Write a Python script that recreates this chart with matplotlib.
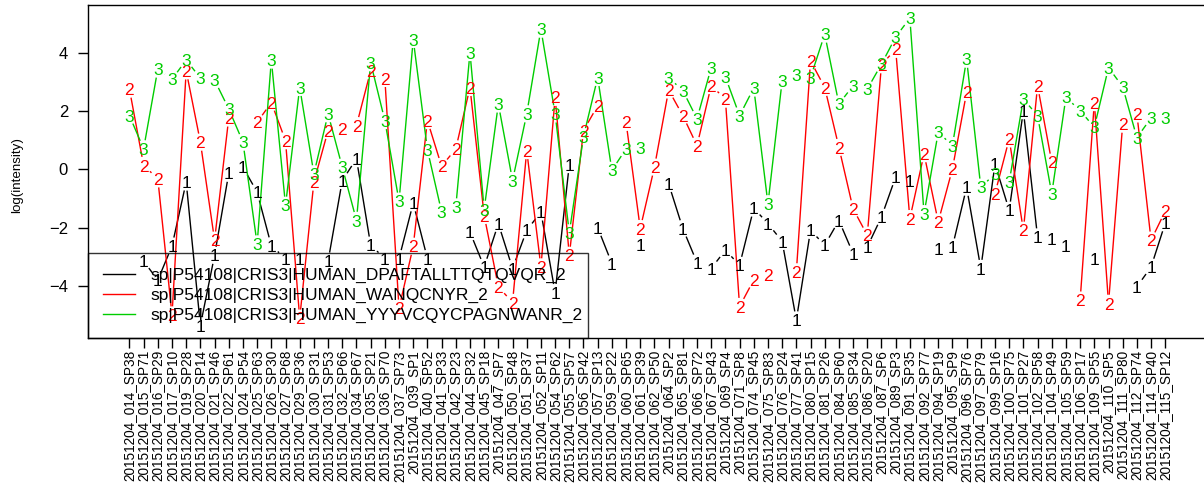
import numpy as np
import matplotlib.pyplot as plt
from matplotlib import transforms
from matplotlib.collections import LineCollection
from matplotlib.lines import Line2D

plt.rcParams['font.family'] = ['Liberation Sans', 'DejaVu Sans']

nan = np.nan

samples = [
    '20151204_014_SP38', '20151204_015_SP71', '20151204_016_SP29', '20151204_017_SP10',
    '20151204_019_SP28', '20151204_020_SP14', '20151204_021_SP46', '20151204_022_SP61',
    '20151204_024_SP54', '20151204_025_SP63', '20151204_026_SP30', '20151204_027_SP68',
    '20151204_029_SP36', '20151204_030_SP31', '20151204_031_SP53', '20151204_032_SP66',
    '20151204_034_SP67', '20151204_035_SP21', '20151204_036_SP70', '20151204_037_SP73',
    '20151204_039_SP1', '20151204_040_SP52', '20151204_041_SP33', '20151204_042_SP23',
    '20151204_044_SP32', '20151204_045_SP18', '20151204_047_SP7', '20151204_050_SP48',
    '20151204_051_SP37', '20151204_052_SP11', '20151204_054_SP62', '20151204_055_SP57',
    '20151204_056_SP42', '20151204_057_SP13', '20151204_059_SP22', '20151204_060_SP65',
    '20151204_061_SP39', '20151204_062_SP50', '20151204_064_SP2', '20151204_065_SP81',
    '20151204_066_SP72', '20151204_067_SP43', '20151204_069_SP4', '20151204_071_SP8',
    '20151204_074_SP45', '20151204_075_SP83', '20151204_076_SP24', '20151204_077_SP41',
    '20151204_080_SP15', '20151204_081_SP26', '20151204_084_SP60', '20151204_085_SP34',
    '20151204_086_SP20', '20151204_087_SP6', '20151204_089_SP3', '20151204_091_SP35',
    '20151204_092_SP77', '20151204_094_SP19', '20151204_095_SP9', '20151204_096_SP76',
    '20151204_097_SP79', '20151204_099_SP16', '20151204_100_SP75', '20151204_101_SP27',
    '20151204_102_SP58', '20151204_104_SP49', '20151204_105_SP59', '20151204_106_SP17',
    '20151204_109_SP55', '20151204_110_SP5', '20151204_111_SP80', '20151204_112_SP74',
    '20151204_114_SP40', '20151204_115_SP12',
]

peptides = [
    'sp|P54108|CRIS3|HUMAN_DPAFTALLTTQTQVQR_2',
    'sp|P54108|CRIS3|HUMAN_WANQCNYR_2',
    'sp|P54108|CRIS3|HUMAN_YYYVCQYCPAGNWANR_2',
]

dpaf = [
    nan, -3.15, -3.8, -2.63, -0.43, -5.36, -2.95, -0.13, 0.08, -0.78,
    -2.62, -3.06, -3.06, nan, -3.15, -0.38, 0.37, -2.6, -3.06, -3.06,
    -1.15, -3.06, nan, nan, -2.15, -3.35, -1.86, -3.4, -2.09, -1.46,
    -4.23, 0.17, nan, -2.0, -3.23, nan, -2.6, nan, -0.49, -2.03,
    -3.2, -3.4, -2.77, -3.29, -1.33, -1.86, -2.47, -5.17, -2.09, -2.6,
    -1.75, -2.89, -2.66, -1.63, -0.26, -0.38, nan, -2.72, -2.66, -0.61,
    -3.4, 0.19, -1.4, 2.02, -2.32, -2.37, -2.64, nan, -3.06, nan,
    nan, -4.03, -3.35, -1.84,
]

wanq = [
    2.76, 0.14, -0.32, -5.0, 3.39, 0.94, -2.43, 1.77, nan, 1.62,
    2.3, 0.99, -5.11, -0.43, 1.34, 1.39, 1.51, 3.39, 3.13, -4.77,
    -2.64, 1.68, 0.11, 0.71, 2.82, -1.58, -4.03, -4.57, 0.65, -3.35,
    2.48, -2.95, 1.34, 2.19, nan, 1.62, -2.03, 0.08, 2.73, 1.85,
    0.82, 2.88, 2.42, -4.71, -3.79, -3.61, nan, -3.52, 3.73, 2.82,
    0.76, -1.35, -2.26, 3.6, 4.13, -1.69, 0.54, -1.8, 0.02, 2.65,
    nan, -0.83, 1.05, -2.09, 2.88, 0.25, nan, -4.49, 2.3, -4.6,
    1.56, 1.91, -2.43, -1.43,
]

yyyv = [
    1.85, 0.71, 3.45, 3.1, 3.76, 3.14, 3.07, 2.08, 0.94, -2.56,
    3.76, -1.23, 2.82, -0.15, 1.91, 0.08, -1.75, 3.67, 1.68, -1.09,
    4.47, 0.68, -1.46, -1.29, 4.02, -1.37, 2.25, -0.38, 1.91, 4.82,
    1.91, -2.18, 1.13, 3.16, -0.03, 0.71, 0.76, nan, 3.16, 2.71,
    1.74, 3.5, 3.18, 1.85, 2.8, -1.18, 3.05, 3.25, 3.16, 4.65,
    2.25, 2.88, 2.76, 3.62, 4.55, 5.2, -1.52, 1.28, 0.82, 3.79,
    -0.61, -0.15, -0.43, 2.42, 1.85, -0.83, 2.48, 2.02, 1.45, 3.5,
    2.84, 1.09, 1.77, 1.77,
]

series = [dpaf, wanq, yyyv]
symbols = ['1', '2', '3']
colors = ['black', '#FF0000', '#00CD00']

fs = 12.5
fs_px = fs * 100 / 72
gap = 0.5 * fs_px

fig = plt.figure(figsize=(12.04, 4.9), dpi=100)
ax = fig.add_axes([88 / 1204, 1 - 338 / 490, 1118.7 / 1204, 333 / 490])
x = np.arange(1, len(samples) + 1)
ax.set_xlim(-1.92, 76.92)
ax.set_ylim(-5.79, 5.65)


def gapped_segments(xs, ys):
    # like R type="b": lines stop short of each point
    pts = ax.transData.transform(np.column_stack([xs, ys]))
    inv = ax.transData.inverted()
    segs = []
    for i in range(len(pts) - 1):
        p, q = pts[i], pts[i + 1]
        if np.isnan(p).any() or np.isnan(q).any():
            continue
        d = np.hypot(*(q - p))
        if d <= 2 * gap:
            continue
        u = (q - p) / d
        segs.append(inv.transform([p + u * gap, q - u * gap]))
    return segs


shift = transforms.offset_copy(ax.transData, fig=fig, y=-0.355 * fs_px, units='dots')

for vals, sym, col in zip(series, symbols, colors):
    vals = np.array(vals, dtype=float)
    ax.add_collection(LineCollection(gapped_segments(x, vals), colors=col, linewidths=1.0))
    for xi, yi in zip(x, vals):
        if np.isnan(yi):
            continue
        ax.text(xi, yi, sym, transform=shift, ha='center', va='baseline',
                fontsize=fs, color=col)

ax.set_xticks(x)
ax.set_xticklabels(samples, rotation=90, fontsize=9.8)
ax.set_yticks([-4, -2, 0, 2, 4])
ax.tick_params(axis='both', direction='out', length=7.2, width=1)
ax.tick_params(axis='x', pad=1.5)
ax.tick_params(axis='y', pad=7.2, labelsize=12)
ax.spines['right'].set_visible(False)
for s in ['left', 'top', 'bottom']:
    ax.spines[s].set_linewidth(1)

fig.text(17 / 1204, 1 - 175 / 490, 'log(intensity)', rotation=90,
         ha='center', va='center', fontsize=9.6)

handles = [Line2D([], [], color=c, lw=1) for c in colors]
leg = ax.legend(handles, peptides, loc='lower left',
                bbox_to_anchor=(0, 0, 500 / 1118.7, 0.5), mode='expand',
                borderaxespad=0, fancybox=False, edgecolor='black',
                facecolor='none', fontsize=fs, handlelength=1.84,
                handletextpad=0.9, borderpad=0.86, labelspacing=0.26)
leg.get_frame().set_linewidth(1)

fig.savefig('out.png', dpi=100)
